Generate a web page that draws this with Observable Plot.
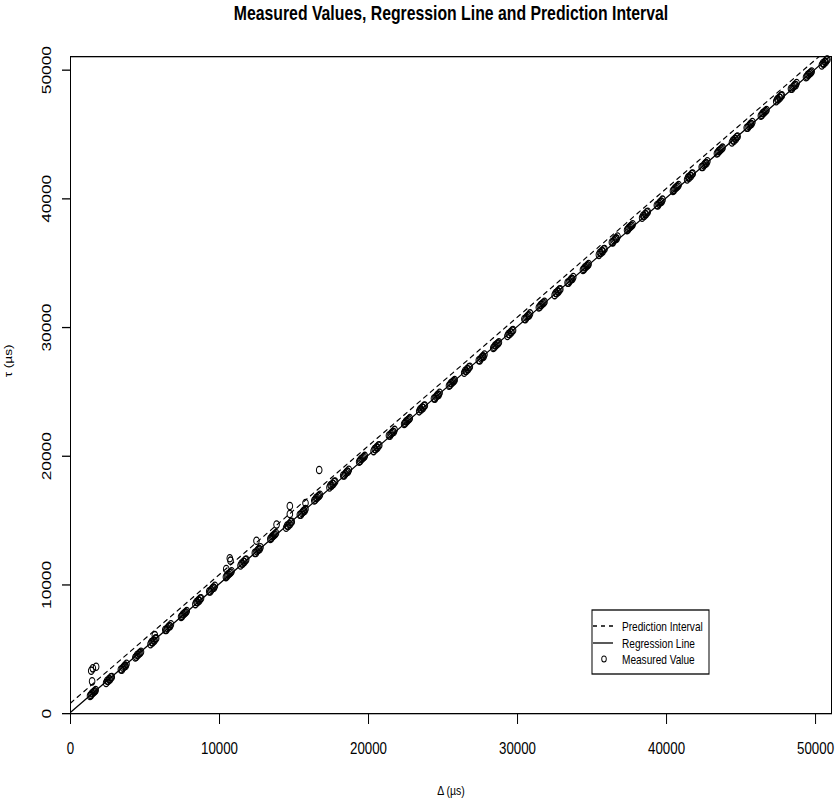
<!DOCTYPE html>
<html><head><meta charset="utf-8">
<script src="https://cdn.jsdelivr.net/npm/d3@7"></script>
<script src="https://cdn.jsdelivr.net/npm/@observablehq/plot@0.6"></script>
<style>
body{margin:0;background:#fff;}
#chart{width:837px;height:802px;overflow:hidden;}
#chart svg{transform:scaleY(1.3);transform-origin:0 0;display:block;max-width:none;}
</style></head><body><div id="chart"></div>
<script>
const measuredX = [
1310,1380,1430,1500,1560,1630,1690,
2390,2460,2530,2590,2650,2710,2770,
3380,3450,3520,3590,3650,3700,3760,
4350,4420,4470,4540,4600,4670,4730,
5370,5440,5510,5570,5630,5690,5750,
6360,6430,6500,6570,6630,6680,6740,
7420,7490,7540,7610,7670,7740,7800,
8380,8450,8520,8580,8640,8700,8760,
9310,9380,9450,9520,9580,9630,9690,
10430,10500,10550,10620,10680,10750,10810,
11410,11480,11550,11610,11670,11730,11790,
12370,12440,12510,12580,12640,12690,12750,
13410,13480,13530,13600,13660,13730,13790,
14470,14540,14610,14670,14730,14790,14850,
15390,15460,15530,15600,15660,15710,15770,
16360,16430,16480,16550,16610,16680,16740,
17380,17450,17520,17580,17640,17700,17760,
18300,18370,18440,18510,18570,18620,18680,
19370,19440,19490,19560,19620,19690,19750,
20340,20410,20480,20540,20600,20660,20720,
21370,21440,21510,21580,21640,21690,21750,
22390,22460,22510,22580,22640,22710,22770,
23400,23470,23540,23600,23660,23720,23780,
24390,24460,24530,24600,24660,24710,24770,
25400,25470,25520,25590,25650,25720,25780,
26420,26490,26560,26620,26680,26740,26800,
27400,27470,27540,27610,27670,27720,27780,
28370,28440,28490,28560,28620,28690,28750,
29320,29390,29460,29520,29580,29640,29700,
30460,30530,30600,30670,30730,30780,30840,
31430,31500,31550,31620,31680,31750,31810,
32490,32560,32630,32690,32750,32810,32870,
33360,33430,33500,33570,33630,33680,33740,
34390,34460,34510,34580,34640,34710,34770,
35460,35530,35600,35660,35720,35780,35840,
36330,36400,36470,36540,36600,36650,36710,
37350,37420,37470,37540,37600,37670,37730,
38360,38430,38500,38560,38620,38680,38740,
39350,39420,39490,39560,39620,39670,39730,
40430,40500,40550,40620,40680,40750,40810,
41380,41450,41520,41580,41640,41700,41760,
42360,42430,42500,42570,42630,42680,42740,
43380,43450,43500,43570,43630,43700,43760,
44390,44460,44530,44590,44650,44710,44770,
45380,45450,45520,45590,45650,45700,45760,
46330,46400,46450,46520,46580,46650,46710,
47360,47430,47500,47560,47620,47680,47740,
48350,48420,48490,48560,48620,48670,48730,
49360,49430,49480,49550,49610,49680,49740,
50420,50490,50560,50620,50680,50740,50800
];
const measuredY = [
1380,1440,1570,1600,1690,1740,1830,
2390,2550,2530,2680,2660,2820,2850,
3430,3420,3560,3650,3730,3710,3870,
4360,4420,4550,4580,4670,4720,4810,
5400,5560,5540,5690,5670,5830,5860,
6510,6500,6640,6730,6810,6790,6950,
7520,7580,7710,7740,7830,7880,7970,
8510,8670,8650,8800,8780,8940,8970,
9500,9490,9630,9720,9800,9780,9940,
10610,10670,10800,10830,10920,10970,11060,
11510,11670,11650,11800,11780,11940,11970,
12490,12480,12620,12710,12790,12770,12930,
13580,13640,13770,13800,13890,13940,14030,
14450,14610,14590,14740,14720,14880,14910,
15460,15450,15590,15680,15760,15740,15900,
16560,16620,16750,16780,16870,16920,17010,
17580,17740,17720,17870,17850,18010,18040,
18510,18500,18640,18730,18810,18790,18950,
19580,19640,19770,19800,19890,19940,20030,
20400,20560,20540,20690,20670,20830,20860,
21610,21600,21740,21830,21910,21890,22050,
22510,22570,22700,22730,22820,22870,22960,
23490,23650,23630,23780,23760,23920,23950,
24490,24480,24620,24710,24790,24770,24930,
25480,25540,25670,25700,25790,25840,25930,
26490,26650,26630,26780,26760,26920,26950,
27460,27450,27590,27680,27760,27740,27900,
28410,28470,28600,28630,28720,28770,28860,
29340,29500,29480,29630,29610,29770,29800,
30660,30650,30790,30880,30960,30940,31100,
31560,31620,31750,31780,31870,31920,32010,
32520,32680,32660,32810,32790,32950,32980,
33490,33480,33620,33710,33790,33770,33930,
34480,34540,34670,34700,34790,34840,34930,
35650,35810,35790,35940,35920,36080,36110,
36630,36620,36760,36850,36930,36910,37070,
37570,37630,37760,37790,37880,37930,38020,
38530,38690,38670,38820,38800,38960,38990,
39500,39490,39630,39720,39800,39780,39940,
40620,40680,40810,40840,40930,40980,41070,
41510,41670,41650,41800,41780,41940,41970,
42480,42470,42610,42700,42780,42760,42920,
43530,43590,43720,43750,43840,43890,43980,
44380,44540,44520,44670,44650,44810,44840,
45530,45520,45660,45750,45830,45810,45970,
46460,46520,46650,46680,46770,46820,46910,
47580,47740,47720,47870,47850,48010,48040,
48560,48550,48690,48780,48860,48840,49000,
49450,49510,49640,49670,49760,49810,49900,
50370,50530,50510,50660,50640,50800,50830
];
// Measured values lying off the main band
const outlierX = [1390,1500,1720,1450,5660,10450,10690,10740,12480,13830,14720,14720,15770,16690];
const outlierY = [3340,3520,3650,2510,6100,11240,12070,11890,13440,14690,16130,15510,16370,18930];

// Regression line and upper prediction bound
const regIntercept = 100, regSlope = 1.0;
const piIntercept = 820, piSlope = 1.0;

const xTicks = [0,10000,20000,30000,40000,50000];
const yTicks = [0,10000,20000,30000,40000,50000];
const xDomain = [0, 51070];
const yDomain = [0, 51050];

const titleText = "Measured Values, Regression Line and Prediction Interval";
const xLabel = "Δ (µs)";
const yLabel = "τ (µs)";
const legendLabels = ["Prediction Interval", "Regression Line", "Measured Value"];

const S = 1.3;             // vertical stretch of the reference picture
const W = 837, H = 802 / S;
const FONT = "'Liberation Sans', Arial, Helvetica, sans-serif";

const points = measuredX.map((x, i) => ({x, y: measuredY[i]}))
  .concat(outlierX.map((x, i) => ({x, y: outlierY[i]})));
const ends = [xDomain[0], xDomain[1]];
const regLine = ends.map(x => ({x, y: regIntercept + regSlope * x}));
const piLine = ends.map(x => ({x, y: piIntercept + piSlope * x}));

const plot = Plot.plot({
  width: W, height: H,
  marginLeft: 70, marginRight: 6, marginTop: 56 / S, marginBottom: H - 713 / S,
  x: {domain: xDomain},
  y: {domain: yDomain},
  style: {fontFamily: FONT, fontSize: "13.3px", color: "#000", background: "#fff"},
  marks: [
    Plot.axisX({ticks: xTicks, tickSize: 8.5, tickPadding: 13, tickFormat: d => String(d), label: null, fontSize: 13.3}),
    Plot.axisY({ticks: yTicks, tickSize: 8, tickFormat: () => "", label: null}),
    Plot.text(yTicks, {y: d => d, text: d => String(d), frameAnchor: "left", dx: -24, rotate: -90, textAnchor: "middle", lineAnchor: "middle", fontSize: 13.3}),
    Plot.line(piLine, {x: "x", y: "y", stroke: "#000", strokeWidth: 1, strokeDasharray: "4,4", clip: true}),
    Plot.line(regLine, {x: "x", y: "y", stroke: "#000", strokeWidth: 1, clip: true}),
    Plot.dot(points, {x: "x", y: "y", r: 2.8, stroke: "#000", strokeWidth: 1, fill: "none"}),
    Plot.frame({stroke: "#000", strokeWidth: 1}),
    Plot.text([titleText], {text: d => d, frameAnchor: "top", dy: 12.5 / S - 56 / S, lineAnchor: "middle", fontWeight: "bold", fontSize: 15.8}),
    Plot.text([xLabel], {text: d => d, frameAnchor: "bottom", dy: 790 / S - 713 / S, lineAnchor: "middle", fontSize: 10.5}),
    Plot.text([yLabel], {text: d => d, frameAnchor: "left", dx: -62, dy: -6, rotate: -90, lineAnchor: "middle", fontSize: 10.5})
  ]
});

document.getElementById("chart").append(plot);

// Legend (drawn in the same stretched SVG)
const svg = d3.select(plot);
const lg = svg.append("g").attr("font-family", FONT).attr("font-size", 10.1).attr("text-anchor", "start");
lg.append("rect").attr("x", 592).attr("y", 610 / S).attr("width", 117).attr("height", 64 / S)
  .attr("fill", "#fff").attr("stroke", "#000").attr("stroke-width", 1);
const rowsY = [626, 643, 659].map(v => v / S);
lg.append("line").attr("x1", 593).attr("x2", 613).attr("y1", rowsY[0]).attr("y2", rowsY[0])
  .attr("stroke", "#000").attr("stroke-width", 1).attr("stroke-dasharray", "4,4");
lg.append("line").attr("x1", 593).attr("x2", 613).attr("y1", rowsY[1]).attr("y2", rowsY[1])
  .attr("stroke", "#000").attr("stroke-width", 1);
lg.append("circle").attr("cx", 604).attr("cy", rowsY[2]).attr("r", 2.3)
  .attr("fill", "none").attr("stroke", "#000").attr("stroke-width", 0.9);
legendLabels.forEach((t, i) => {
  lg.append("text").attr("x", 622).attr("y", rowsY[i]).attr("dy", "0.35em")
    .attr("text-anchor", "start").attr("fill", "#000").text(t);
});
</script></body></html>
